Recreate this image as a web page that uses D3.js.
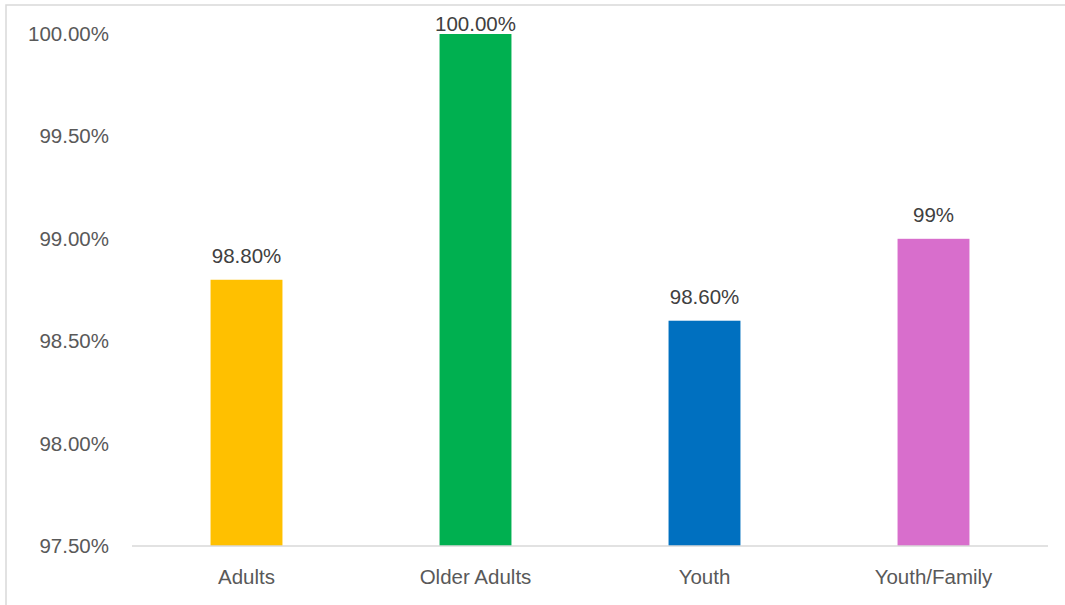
<!DOCTYPE html>
<html><head><meta charset="utf-8">
<script src="https://cdn.jsdelivr.net/npm/d3@7"></script>
<style>body{margin:0;background:#fff}svg{display:block}</style>
</head><body>
<svg id="c" width="1065" height="605"></svg>
<script>
const categories = ["Adults", "Older Adults", "Youth", "Youth/Family"];
const values = [98.8, 100, 98.6, 99];
const valueLabels = ["98.80%", "100.00%", "98.60%", "99%"];
const colors = ["#FFC000", "#00B050", "#0070C0", "#D86ECC"];
const yTicks = [97.5, 98, 98.5, 99, 99.5, 100];

(function () {
const svg = d3.select("#c");
const font = "'Liberation Sans', Arial, sans-serif";
const textColor = "#595959";

// chart frame
svg.append("rect").attr("x", 6).attr("y", 5).attr("width", 1100).attr("height", 700)
  .attr("fill", "#fff").attr("stroke", "#d9d9d9").attr("stroke-width", 1.5);

const mLeft = 132, mRight = 1048, mTop = 34, mBottom = 546;
const x = d3.scaleBand().domain(categories).range([mLeft, mRight]).paddingInner(0.686).paddingOuter(0.343);
const y = d3.scaleLinear().domain([97.5, 100]).range([mBottom, mTop]);

// y axis labels
const yAxis = d3.axisLeft(y).tickValues(yTicks).tickSize(0).tickPadding(23)
  .tickFormat(d => d3.format(".2f")(d) + "%");
const gy = svg.append("g").attr("transform", `translate(${mLeft},0)`).call(yAxis);
gy.select(".domain").remove();
gy.selectAll("text").attr("font-family", font).attr("font-size", 20.5).attr("fill", textColor);

// bars
svg.selectAll("rect.bar").data(categories).join("rect").attr("class", "bar")
  .attr("x", d => x(d)).attr("width", x.bandwidth())
  .attr("y", (d, i) => y(values[i])).attr("height", (d, i) => mBottom - y(values[i]))
  .attr("fill", (d, i) => colors[i]);

// x axis
const xAxis = d3.axisBottom(x).tickSize(0).tickPadding(23);
const gx = svg.append("g").attr("transform", `translate(0,${mBottom})`).call(xAxis);
gx.select(".domain").attr("stroke", "#d9d9d9").attr("stroke-width", 1.5)
  .attr("d", `M${mLeft},0H${mRight}`);
gx.selectAll("text").attr("font-family", font).attr("font-size", 20.5).attr("fill", textColor);

// data labels
svg.selectAll("text.dl").data(categories).join("text").attr("class", "dl")
  .attr("x", d => x(d) + x.bandwidth() / 2)
  .attr("y", (d, i) => Math.max(y(values[i]) - 17, 31))
  .attr("text-anchor", "middle").attr("font-family", font).attr("font-size", 20.5)
  .attr("fill", "#404040").text((d, i) => valueLabels[i]);
})();
</script>
</body></html>
